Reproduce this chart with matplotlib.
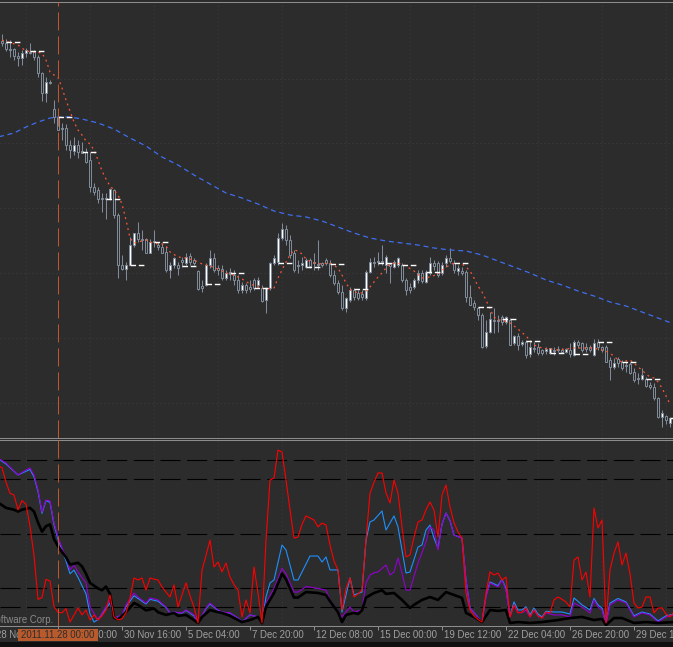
import numpy as np
import matplotlib.pyplot as plt
from matplotlib.patches import Rectangle
from matplotlib.transforms import offset_copy

plt.rcParams['font.family'] = ['Liberation Sans', 'DejaVu Sans']

# H4 bars, bar 0 = 2011.11.28 00:00, first visible bar = -14
bar_first = -14
opens = [459, 457, 451, 451, 444, 442, 447, 448, 448, 443,
         427, 407, 418, 391, 383, 372, 372, 355, 349, 355,
         349, 348, 340, 313, 310, 302, 301, 301, 310, 285,
         235, 231, 235, 255, 267, 261, 261, 247, 258, 255,
         253, 248, 230, 235, 235, 240, 237, 244, 240, 229,
         214, 215, 235, 242, 232, 231, 222, 228, 225, 220,
         210, 215, 213, 220, 215, 212, 200, 212, 237, 238,
         262, 271, 260, 247, 234, 235, 233, 240, 238, 236,
         237, 240, 237, 225, 217, 208, 192, 200, 210, 207,
         206, 202, 228, 238, 238, 238, 235, 236, 233, 235,
         235, 220, 213, 213, 220, 227, 218, 227, 237, 237,
         227, 237, 242, 237, 229, 229, 228, 203, 197, 192,
         185, 154, 168, 180, 179, 183, 178, 180, 157, 164,
         156, 158, 146, 152, 153, 150, 149, 147, 150, 151,
         150, 148, 150, 145, 158, 157, 153, 153, 145, 158,
         153, 153, 140, 133, 141, 138, 135, 136, 128, 122,
         121, 121, 115, 113, 102, 83, 84, 77]
highs = [466, 461, 460, 452, 448, 450, 452, 457, 450, 445,
         428, 423, 420, 400, 387, 377, 376, 360, 363, 360,
         358, 352, 348, 317, 313, 307, 307, 312, 311, 287,
         245, 238, 263, 267, 278, 270, 262, 261, 270, 258,
         257, 254, 238, 243, 238, 243, 247, 247, 242, 230,
         220, 237, 250, 247, 235, 235, 230, 232, 230, 225,
         218, 217, 220, 222, 223, 215, 213, 238, 245, 267,
         277, 275, 265, 250, 240, 243, 242, 242, 247, 260,
         238, 242, 240, 230, 220, 215, 203, 213, 212, 210,
         210, 230, 242, 243, 248, 255, 245, 237, 240, 243,
         237, 222, 217, 222, 230, 230, 230, 243, 240, 239,
         238, 245, 252, 240, 235, 233, 230, 215, 200, 193,
         187, 180, 188, 192, 185, 185, 184, 182, 165, 167,
         160, 160, 160, 158, 157, 151, 153, 152, 153, 154,
         152, 152, 157, 160, 160, 158, 157, 155, 161, 161,
         154, 155, 143, 142, 143, 140, 138, 138, 132, 127,
         132, 123, 118, 117, 103, 90, 85, 83]
lows = [454, 449, 443, 440, 434, 435, 443, 446, 440, 423,
        399, 398, 416, 377, 370, 360, 350, 342, 345, 342,
        347, 337, 308, 305, 297, 288, 281, 300, 282, 222,
        230, 220, 235, 253, 258, 250, 247, 247, 253, 250,
        247, 228, 222, 232, 225, 233, 235, 235, 235, 210,
        208, 214, 232, 228, 225, 220, 220, 220, 215, 207,
        207, 207, 208, 210, 213, 198, 187, 210, 235, 235,
        260, 255, 242, 228, 227, 230, 232, 232, 230, 230,
        233, 235, 223, 215, 206, 190, 188, 198, 200, 200,
        200, 200, 227, 233, 235, 235, 227, 217, 232, 233,
        218, 205, 207, 211, 217, 217, 217, 225, 230, 223,
        225, 233, 237, 227, 225, 225, 198, 195, 190, 180,
        152, 152, 167, 167, 168, 175, 176, 155, 155, 150,
        154, 142, 143, 148, 145, 145, 146, 146, 145, 148,
        147, 147, 143, 144, 152, 148, 148, 148, 144, 150,
        148, 138, 120, 131, 133, 130, 128, 126, 118, 116,
        120, 113, 111, 100, 82, 73, 76, 73]
closes = [457, 451, 450, 444, 442, 447, 450, 447, 443, 427,
          407, 418, 417, 383, 370, 371, 355, 350, 355, 348,
          347, 338, 313, 308, 301, 301, 302, 311, 285, 235,
          231, 235, 255, 267, 261, 260, 247, 258, 259, 253,
          247, 230, 235, 242, 232, 238, 243, 238, 237, 211,
          212, 235, 242, 230, 230, 222, 227, 226, 220, 210,
          215, 210, 211, 212, 220, 199, 212, 237, 242, 262,
          271, 260, 245, 230, 235, 237, 240, 234, 237, 235,
          235, 237, 225, 217, 208, 192, 202, 210, 203, 202,
          203, 228, 238, 237, 239, 238, 243, 234, 238, 242,
          220, 210, 210, 220, 227, 219, 228, 237, 234, 225,
          235, 242, 239, 230, 232, 227, 203, 195, 193, 185,
          153, 168, 181, 179, 180, 178, 183, 155, 164, 155,
          158, 145, 153, 151, 147, 147, 151, 152, 149, 150,
          148, 151, 146, 158, 155, 150, 151, 150, 157, 153,
          150, 138, 133, 137, 137, 132, 134, 127, 120, 121,
          125, 114, 113, 102, 83, 87, 80, 82]

# fast MA (red dotted)
ma_fast_bars = [-14, -10, -8, -6, -4, -3, -2, -1, 0, 1, 2, 3, 4, 5, 6, 7, 8, 9, 10, 11,
                12, 13, 14, 15, 16, 17, 18, 19, 20, 21, 22, 23, 24, 25, 26, 27, 28, 30, 32, 34,
                36, 38, 40, 42, 44, 46, 48, 50, 52, 54, 55, 56, 57, 58, 59, 60, 61, 62, 64, 66,
                68, 70, 71, 72, 73, 74, 76, 77, 78, 79, 80, 81, 82, 83, 85, 87, 89, 91, 93, 95,
                97, 99, 101, 102, 103, 104, 105, 106, 107, 108, 109, 110, 111, 113, 115, 117, 119, 121, 123, 125,
                127, 129, 131, 133, 135, 137, 139, 140, 141, 142, 143, 144, 145, 146, 147, 148, 149, 150, 151, 152,
                153]
ma_fast = [460, 455, 449, 448, 447, 440, 428, 425, 423, 412, 400, 389, 378, 370, 365, 359, 356, 350, 340, 329,
           321, 314, 310, 305, 296, 280, 262, 257, 258, 259, 260, 258, 257, 256, 256, 254, 248, 243, 242, 240,
           236, 234, 231, 227, 225, 221, 216, 213, 211, 212, 222, 230, 238, 245, 250, 249, 246, 241, 237, 236,
           237, 232, 225, 217, 211, 208, 207, 209, 213, 218, 223, 227, 232, 236, 237, 234, 229, 222, 223, 226,
           233, 237, 236, 233, 229, 222, 214, 208, 200, 191, 183, 180, 180, 177, 171, 164, 155, 152, 151, 150,
           151, 152, 152, 152, 151, 149, 144, 140, 138, 139, 140, 137, 133, 130, 126, 123, 122, 118, 112, 104,
           96]

# slow MA (blue dashed)
ma_slow_bars = [-15, -11, -8, -5, -2, 0, 3, 6, 10, 14, 18, 22, 26, 30, 34, 38, 42, 46, 50, 54,
                58, 62, 66, 70, 74, 78, 82, 86, 90, 94, 98, 102, 106, 110, 114, 118, 122, 126, 130, 134,
                138, 142, 146, 150, 154]
ma_slow = [363, 367, 373, 378, 382, 383, 383, 381, 377, 371, 362, 354, 343, 335, 325, 316, 307, 302, 296, 289,
           285, 283, 279, 273, 267, 262, 259, 257, 255, 252, 250, 249, 245, 239, 233, 227, 220, 215, 209, 204,
           198, 194, 188, 182, 176]

# daily open levels (white dashed)
day_start = [-13, -7, 0, 6, 12, 18, 24, 31, 37, 43, 49, 55, 62, 68, 74, 80, 86, 92, 99, 105,
             111, 117, 123, 129, 135, 141, 147, 153]
day_open = [458, 449, 383, 348, 301, 235, 258, 234, 216, 227, 212, 237, 233, 236, 211, 237, 235, 228, 237, 193,
            181, 159, 147, 146, 158, 138, 121, 82]

# oscillator panel
red_line = [87, 86, 78, 72, 71, 63, 68, 66, 54, 38,
            14, 15, 25, 24, 10, 7, 6.6, 9, 1.6, 5.5,
            9.3, 5.5, 8.2, 2.7, 5.5, 2.7, 5, 8.2, 16.4, 4.4,
            2.7, 3.5, 6.6, 14.8, 25.7, 24.6, 25.7, 19.1, 25.7, 25,
            24.6, 20.8, 18, 15.3, 21.9, 9.8, 16.4, 23, 16, 9.8,
            1.1, 30, 38, 46.4, 31.7, 34.4, 29, 33.9, 26.2, 22,
            19.1, 4.4, 13.7, 6.6, 31.7, 17.5, 1.1, 46.4, 79.2, 80.3,
            95.6, 94.5, 79.2, 63, 47.5, 48.1, 55, 59.6, 58.5, 57.4,
            53.6, 55.7, 54.6, 43.7, 35, 30.1, 8.2, 20, 25.7, 15.3,
            17, 19.1, 46.4, 72, 78, 83.1, 83.1, 72.1, 66.7, 79.2,
            72.1, 53.6, 37.2, 38.3, 48, 56.3, 57.4, 63, 67.2, 62.8,
            48.1, 71, 76.5, 64.5, 56, 50.8, 47.5, 17.5, 8.2, 5,
            3, 1.6, 17.5, 29, 27.3, 28.4, 24.6, 26.2, 4.4, 10.9,
            6.6, 7, 9.3, 4.4, 8.2, 5, 3.8, 7.1, 6.6, 13.7,
            15.3, 14, 12.6, 9.8, 35.5, 37.2, 24.6, 29, 15.3, 63.9,
            53, 57.4, 1.1, 30.1, 39.3, 45.4, 32.8, 39.3, 28, 12,
            9.3, 9.8, 15.3, 15.3, 6.6, 9.3, 9.3, 6, 4.4, 7.1]
red_first = -15

blue_bars = [-15, -13, -12, -10, -8, -7, -6, -5, -4, -3, -2, -1, 0, 1, 2, 3, 4, 5, 7, 8,
             9, 10, 13, 14, 16, 17, 19, 20, 22, 23, 25, 27, 28, 29, 31, 32, 34, 35, 37, 38,
             40, 41, 43, 45, 46, 48, 50, 51, 52, 53, 54, 56, 57, 59, 60, 63, 65, 66, 67, 68,
             70, 71, 73, 74, 76, 77, 78, 79, 81, 82, 84, 85, 87, 88, 90, 91, 92, 93, 94, 95,
             96, 97, 98, 99, 101, 102, 103, 106, 107, 108, 110, 111, 112, 113, 114, 115, 116, 117, 118, 119,
             120, 121, 122, 124, 126, 128, 129, 131, 133, 134, 135, 136, 137, 138, 140, 142, 144, 146, 148, 150,
             152, 154]
blue_line = [91, 88, 86, 82, 84, 85, 81, 73, 61, 68, 67, 55, 47, 41, 35, 28, 30, 26, 17, 6,
             1.6, 3, 12, 3.8, 5, 10, 16, 14.5, 11.5, 14, 13, 9.5, 6.6, 7, 6.5, 8, 5, 1.1, 9, 11.5,
             8, 7, 6.5, 3.8, 1.6, 5.5, 4.4, 1.1, 15.3, 23, 24.6, 43.7, 41, 24.6, 24.6, 37.7, 37.7, 34.4, 37.2, 30.1,
             30.1, 7.1, 25.7, 16.4, 18, 46.4, 56.3, 57.4, 62.3, 51.9, 59.6, 53.6, 28.4, 29, 42.6, 43.7, 51.9, 54.6, 47.5, 42.1,
             55.1, 61.2, 57, 49.2, 47.5, 24.6, 9.3, 1.6, 16, 23.5, 21.5, 25, 20, 5, 12.6, 8.2, 8.2, 10, 5.5, 9.3,
             6, 4.4, 7.5, 7.1, 7.1, 6, 14.8, 11, 8.2, 14.5, 10.9, 9.3, 1.1, 12, 14.5, 12.6, 5, 7.1, 6, 2.2,
             5, 6]

purple_bars = [-15, -13, -12, -10, -8, -7, -6, -5, -4, -3, -2, -1, 0, 1, 2, 3, 4, 5, 7, 8,
               10, 13, 14, 16, 17, 19, 20, 22, 23, 25, 27, 28, 29, 31, 32, 34, 35, 37, 38, 40,
               41, 43, 45, 46, 48, 50, 51, 52, 54, 56, 57, 59, 60, 62, 65, 67, 68, 71, 73, 74,
               76, 77, 78, 79, 80, 82, 83, 84, 85, 86, 87, 88, 90, 92, 93, 94, 95, 96, 97, 98,
               99, 101, 102, 103, 106, 107, 108, 110, 111, 112, 113, 114, 115, 116, 117, 118, 119, 120, 121, 122,
               124, 126, 128, 129, 131, 133, 134, 135, 136, 137, 138, 140, 142, 144, 146, 148, 150, 152, 154]
purple_line = [91.3, 88.5, 86.3, 82, 84.7, 85.8, 82, 73.8, 61.7, 68.3, 67.8, 55.7, 48.1, 42.1, 37.2, 30.1, 32.8, 29, 23, 10,
               2.7, 13.7, 3.8, 5.5, 10.9, 17.5, 15.3, 12, 14.8, 13.7, 9.8, 6.6, 7.1, 6.6, 8.2, 5.5, 1.1, 9.3, 12, 8.2,
               7.1, 6.6, 3.8, 1.6, 5.5, 4.4, 1.1, 12, 20, 31, 28, 18, 18, 21, 20, 19, 13.7, 4.4, 9.8, 7.1,
               8.2, 23, 27.3, 28.5, 29, 32.8, 27.3, 29, 36.6, 28.4, 19.1, 19.1, 33.9, 45.4, 53.6, 51.9, 41, 55.1, 61.2, 57,
               49.2, 47.5, 24.6, 9.3, 1.6, 15.3, 23, 20.8, 24.6, 19.1, 4.4, 10.9, 7, 6.6, 8.2, 4.4, 8.2, 5, 3.8, 6.6,
               5.5, 5.5, 4.4, 12, 9.8, 6.6, 13.7, 9.8, 8.2, 1.1, 10.9, 13.7, 12, 4.4, 6.6, 5.5, 1.6, 4.4, 5.5]

black_bars = [-15, -13, -11, -10, -9, -7, -6, -5, -4, -3, -2, -1, 0, 1, 2, 3, 5, 6, 7, 8,
              10, 11, 12, 13, 14, 15, 17, 19, 20, 22, 24, 25, 27, 29, 30, 32, 34, 35, 36, 38,
              40, 41, 43, 45, 46, 48, 50, 51, 52, 54, 56, 57, 59, 60, 62, 65, 67, 68, 70, 71,
              72, 74, 75, 76, 77, 79, 81, 82, 84, 86, 88, 89, 91, 93, 95, 97, 99, 101, 102, 104,
              106, 108, 110, 112, 113, 115, 118, 121, 125, 128, 131, 134, 136, 137, 139, 141, 144, 147, 150, 154]
black_line = [67, 64, 63, 62, 63, 64, 62, 56, 51, 54, 55, 47, 43, 40, 37, 33, 34, 32, 28, 23,
              20, 19, 21, 17, 4, 3, 7, 12, 11, 8, 9, 7, 5.5, 6.6, 5, 5.5, 2.7, 1.1, 4.4, 8.2,
              7, 6.6, 5, 2.7, 1.6, 2.7, 4.4, 1, 10, 17.5, 28, 25, 15, 15, 18, 17.5, 16.4, 13, 7, 1.6,
              5.5, 6.6, 6, 8, 15, 17.5, 19, 17, 17.5, 13.7, 9.3, 11, 13.7, 15.3, 13.7, 18, 16.4, 14.8, 6.6, 4.4,
              1.6, 8.2, 7.7, 8.2, 1.1, 1.6, 1.1, 1.6, 2.7, 3.8, 4.4, 2.7, 3.3, 0, 3.8, 3.8, 1.1, 1.6, 1.1, 1.6]
osc_levels = [90, 80, 50, 20, 10]

# time axis
label_bars = [-16, 16, 32, 48, 64, 80, 96, 112, 128, 144]
label_text = ['28 Nov 2011', '30 Nov 16:00', '5 Dec 04:00', '7 Dec 20:00', '12 Dec 08:00',
              '15 Dec 00:00', '19 Dec 12:00', '22 Dec 04:00', '26 Dec 20:00', '29 Dec 12:00']
cursor_bar = 0
cursor_text = '2011.11.28 00:00'

BG = '#2c2c2c'
EDGE = '#7f8b98'
GRID = '#3b3b45'
W, H = 673, 647

fig = plt.figure(figsize=(W / 100, H / 100), dpi=100, facecolor=BG)
ax = fig.add_axes([0, 1 - 438 / H, 1, 436 / H], facecolor=BG)
ind = fig.add_axes([0, 1 - 626 / H, 1, 186 / H], facecolor=BG)

for a in (ax, ind):
    a.set_xlim(-14.5, 153.75)
    for s in ('left', 'right'):
        a.spines[s].set_visible(False)
    for s in ('top', 'bottom'):
        a.spines[s].set_color('#8c8c8c')
        a.spines[s].set_linewidth(0.75)
    a.set_yticks([])
    # faint dotted grid
    for gb in range(-8, 154, 16):
        a.axvline(gb, color=GRID, lw=0.72, ls=(0, (1, 3)), zorder=0)
    a.axvline(cursor_bar, color='#c2562b', lw=0.72, ls=(0, (18, 6)), zorder=7)

ax.set_ylim(62, 498)
ax.set_xticks([])
for gp in [421, 357, 292, 227, 162, 97]:
    ax.axhline(gp, color=GRID, lw=0.72, ls=(0, (1, 3)), zorder=0)

# candles
bars = np.arange(bar_first, bar_first + len(opens))
o = np.array(opens)
c = np.array(closes)
ax.vlines(bars, lows, highs, color=EDGE, lw=0.75, zorder=2)
fills = np.where(c > o, 'white', BG)
ax.bar(bars, np.maximum(np.abs(c - o), 0.6), bottom=np.minimum(o, c), width=0.72,
       color=fills, edgecolor=EDGE, linewidth=0.72, zorder=3)

ax.plot(ma_slow_bars, ma_slow, color='#3f6ef0', lw=0.9, ls=(0, (4, 3)), zorder=4)
ax.plot(ma_fast_bars, ma_fast, color='#ff5533', lw=0.9, ls=(0, (1.5, 3)), zorder=4)
ax.hlines(day_open, np.array(day_start), np.array(day_start) + 3.8, color='white',
          lw=1.0, linestyles=(0, (4, 2)), zorder=5)

# oscillator
ind.set_ylim(-0.55, 101.1)
for lv in osc_levels:
    ind.axhline(lv, color='black', lw=0.8, ls=(0, (18, 6)), zorder=1)
ind.plot(blue_bars, blue_line, color='#1e90ff', lw=0.8, zorder=3)
ind.plot(purple_bars, purple_line, color='#9400d3', lw=0.8, zorder=3)
ind.plot(black_bars, black_line, color='black', lw=1.9, zorder=4)
ind.plot(np.arange(red_first, red_first + len(red_line)), red_line, color='red', lw=0.8, zorder=5)

tick_in = [b for b in label_bars if b > -14.5] + [cursor_bar]
ind.set_xticks(tick_in)
ind.set_xticklabels([])
ind.tick_params(axis='x', colors='#8c8c8c', length=3, width=0.75, direction='out')

lbl_tr = offset_copy(ind.get_xaxis_transform(), fig=fig, x=2, y=-4, units='dots')
for b, t in zip(label_bars, label_text):
    ind.text(b, 0, t, transform=lbl_tr, ha='left', va='top', fontsize=6.9,
             color='#a0a0a0', clip_on=False)
ind.text(cursor_bar, 0, '28 Nov 00:00', transform=lbl_tr, ha='left', va='top',
         fontsize=6.9, color='#a0a0a0', clip_on=False)

# cursor time box
fig.patches.append(Rectangle((18 / W, 1 - 641 / H), 80 / W, 12 / H, transform=fig.transFigure,
                             facecolor='#b85a2c', edgecolor='none', zorder=10))
fig.text(58 / W, 1 - 635 / H, cursor_text, ha='center', va='center', fontsize=6.9,
         color='#2e2e2e', zorder=11)

fig.text(53 / W, 1 - 623 / H, 'Software Corp.', ha='right', va='baseline', fontsize=6.9,
         color='#8a8a8a')

# dark strip at the very bottom
fig.patches.append(Rectangle((0, 0), 1, 5 / H, transform=fig.transFigure,
                             facecolor='#101010', edgecolor='none'))

fig.savefig('out.png', dpi=100, facecolor=BG)
